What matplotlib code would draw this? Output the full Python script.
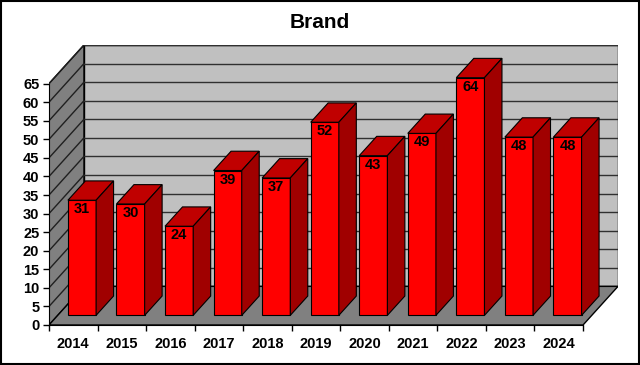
import matplotlib
matplotlib.use("Agg")
import matplotlib.pyplot as plt
from matplotlib.patches import Polygon, Rectangle

plt.rcParams['font.family'] = ['Liberation Sans', 'DejaVu Sans']

title = "Brand"
categories = ["2014", "2015", "2016", "2017", "2018", "2019", "2020", "2021", "2022", "2023", "2024"]
values = [31, 30, 24, 39, 37, 52, 43, 49, 64, 48, 48]
y_ticks = list(range(0, 70, 5))

# oblique depth offset (category units, value units)
DX, DY = 0.72, 10.4
YMAX = 65
D0, D1 = 0.25, 0.75
BW = 0.58

fig = plt.figure(figsize=(6.4, 3.65), dpi=100)
n = len(categories)
ax = fig.add_axes([49 / 640, 40 / 365, 569 / 640, 280 / 365])
ax.set_xlim(0, n + DX)
ax.set_ylim(0, YMAX + DY)
ax.patch.set_alpha(0)

wall_kw = dict(edgecolor='black', linewidth=1.0, zorder=1)
# back wall
ax.add_patch(Polygon([(DX, DY), (n + DX, DY), (n + DX, YMAX + DY), (DX, YMAX + DY)],
                     closed=True, facecolor='#C0C0C0', **wall_kw))
# side wall
ax.add_patch(Polygon([(0, 0), (DX, DY), (DX, YMAX + DY), (0, YMAX)],
                     closed=True, facecolor='#808080', **wall_kw))
# floor
ax.add_patch(Polygon([(0, 0), (n, 0), (n + DX, DY), (DX, DY)],
                     closed=True, facecolor='#808080', **wall_kw))

# gridlines
for v in y_ticks[1:]:
    ax.plot([DX, n + DX], [v + DY, v + DY], color='#303030', lw=1.0, zorder=2)
    ax.plot([0, DX], [v, v + DY], color='#202020', lw=1.0, zorder=2)

# bars
for i, v in enumerate(values):
    x0 = i + (1 - BW) / 2 + D0 * DX
    y0 = D0 * DY
    ddx = (D1 - D0) * DX
    ddy = (D1 - D0) * DY
    ek = dict(edgecolor='black', linewidth=0.8, zorder=3 + i)
    ax.add_patch(Polygon([(x0, y0), (x0 + BW, y0), (x0 + BW, y0 + v), (x0, y0 + v)],
                         closed=True, facecolor='#FF0000', **ek))
    ax.add_patch(Polygon([(x0, y0 + v), (x0 + BW, y0 + v), (x0 + BW + ddx, y0 + v + ddy),
                          (x0 + ddx, y0 + v + ddy)], closed=True, facecolor='#C00000', **ek))
    ax.add_patch(Polygon([(x0 + BW, y0), (x0 + BW + ddx, y0 + ddy), (x0 + BW + ddx, y0 + v + ddy),
                          (x0 + BW, y0 + v)], closed=True, facecolor='#A00000', **ek))
    ax.annotate(str(v), xy=(x0 + BW / 2, y0 + v), xytext=(0, -6.5), textcoords='offset points',
                ha='center', va='center', fontsize=10.5, fontweight='bold', color='black',
                zorder=20)

# axes
for s in ['top', 'right']:
    ax.spines[s].set_visible(False)
ax.spines['left'].set_bounds(0, YMAX)
ax.spines['bottom'].set_bounds(0, n)
ax.spines['left'].set_zorder(30)
ax.spines['bottom'].set_zorder(30)
ax.set_yticks(y_ticks)
ax.set_yticklabels([str(t) for t in y_ticks], fontsize=10.5, fontweight='bold')
ax.set_xticks([i + 0.5 for i in range(n)])
ax.set_xticklabels(categories, fontsize=10.5, fontweight='bold')
ax.set_xticks(list(range(n + 1)), minor=True)
ax.tick_params(axis='x', which='major', length=0, pad=9)
ax.tick_params(axis='x', which='minor', length=4, direction='out', width=1)
ax.tick_params(axis='y', length=4, direction='out', width=1, pad=3)

fig.text(0.5, 1 - 22 / 365, title, ha='center', va='center', fontsize=15, fontweight='bold')

fig.patches.append(Rectangle((0.0015, 0.003), 0.997, 0.994, transform=fig.transFigure,
                             fill=False, edgecolor='black', linewidth=1.5))

fig.savefig("out.png", dpi=100)
